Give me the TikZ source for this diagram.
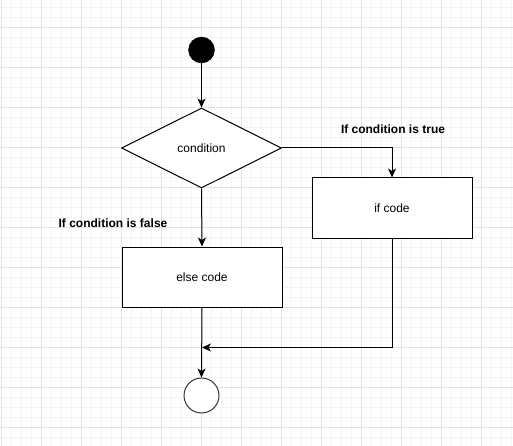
\documentclass[tikz,border=0pt]{standalone}
\usepackage{fontspec}
\setmainfont{Liberation Sans}
\usetikzlibrary{shapes.geometric,arrows.meta}
\definecolor{gridminor}{HTML}{F4F4F4}
\definecolor{gridmajor}{HTML}{E3E3E3}
\definecolor{endgray}{HTML}{333333}
\begin{document}
\begin{tikzpicture}[x=1pt,y=-1pt,
  conn/.style={draw=black,line width=1pt,-{Stealth[length=9pt,width=8pt,inset=2.5pt]}},
  txt/.style={font=\fontsize{12pt}{14pt}\selectfont},
  lbl/.style={font=\fontsize{12pt}{14pt}\selectfont\bfseries,inner sep=0pt},
  box/.style={draw=black,line width=1pt,fill=white,minimum width=160pt,minimum height=60pt,inner sep=0pt,txt},
  decision/.style={diamond,draw=black,line width=1pt,fill=white,aspect=2,minimum width=160pt,minimum height=80pt,inner sep=0pt,txt},
  startnode/.style={circle,draw=black,fill=black,minimum size=26pt,inner sep=0pt},
  endnode/.style={circle,draw=endgray,line width=1pt,fill=white,minimum size=35pt,inner sep=0pt}
]
\useasboundingbox (0,0) rectangle (513,446);
\fill[white] (0,0) rectangle (513,446);
% grid
\foreach \x in {1.5,11.5,...,511.5} \draw[gridminor,line width=1pt] (\x,0) -- (\x,446);
\foreach \y in {7.5,17.5,...,446} \draw[gridminor,line width=1pt] (0,\y) -- (513,\y);
\foreach \x in {1.5,41.5,...,511.5} \draw[gridmajor,line width=1pt] (\x,0) -- (\x,446);
\foreach \y in {27.5,67.5,...,446} \draw[gridmajor,line width=1pt] (0,\y) -- (513,\y);
% nodes
\node[startnode] (start) at (201.5,50) {};
\node[decision] (cond) at (201.5,148) {condition};
\node[box] (ifc) at (392,208) {if code};
\node[box] (elsec) at (202,277) {else code};
\node[endnode] (end) at (201.5,395.5) {};
\coordinate (join) at (202,347.5);
\node[lbl] (ltrue) at (393,129) {If condition is true};
\node[lbl] (lfalse) at (113,223) {If condition is false};
% connectors
\draw[conn] (start) -- (cond.north);
\draw[conn] (cond.east) -| (ifc.north);
\draw[conn] (cond.south) -- (elsec.north);
\draw[conn] (elsec.south) -- (end.north);
\draw[conn] (ifc.south) |- (join);
\end{tikzpicture}
\end{document}
